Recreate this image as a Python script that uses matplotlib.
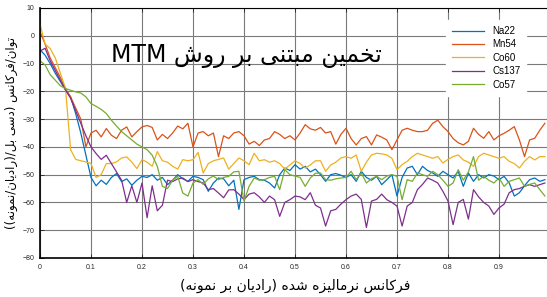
import re
import numpy as np
import matplotlib
matplotlib.use("Agg")
import matplotlib.pyplot as plt

# normalized frequency grid (rad/sample / pi)
freq = np.arange(100) / 100.0

na22 = [-5, -7, -10, -13.5, -16.5, -19.5, -22, -28, -35, -43,
        -51, -54, -52, -53.5, -51, -49.6, -52.5, -51.5, -53.8, -52,
        -50.6, -51, -50, -52, -51, -53.6, -52, -50, -51.5, -52.4,
        -50.6, -51, -51.8, -56, -53, -51.2, -51.5, -54, -52, -62.5,
        -51.8, -51, -50.6, -51.8, -52, -53, -54.8, -50, -47.6, -48.5,
        -46.4, -48, -47, -49, -48, -50, -52.4, -50, -49.6, -50.2,
        -51, -50, -52.4, -48.8, -51, -52, -50.6, -53.6, -51.8, -50,
        -57.7, -51, -47.6, -47, -50, -47, -48.5, -49.4, -50.6, -48.8,
        -50, -51.2, -48.8, -54.2, -49.4, -52.4, -50, -51.2, -50, -50.5,
        -51.8, -50.6, -53, -57.7, -56.5, -54, -51.8, -51.2, -52.4, -51.8]

mn54 = [1.5, -3, -8, -11.5, -15, -19, -22, -26, -30, -40,
        -35, -34, -36.4, -33.4, -35.8, -37, -34, -32.8, -36.4, -34.5,
        -32.8, -32.3, -33, -37.5, -35.5, -37, -35, -32.5, -33.5, -31.5,
        -40, -35, -34.5, -36, -35, -43.5, -36, -37, -35, -34.5,
        -36, -39, -38, -39.5, -37.5, -37, -34.5, -35.5, -37, -36,
        -37.5, -35, -32, -33.5, -34, -33, -35, -34.5, -39, -35.5,
        -33.3, -37, -39.3, -37, -36.3, -39.3, -35.7, -36.5, -37.5, -41,
        -37.5, -34, -33.3, -34, -34.5, -34.5, -34, -31.5, -30.4, -32.7,
        -34.5, -37, -38.5, -39.3, -38, -33.3, -35.5, -36.9, -34.5, -37.5,
        -36, -35.1, -34, -32.7, -37.5, -43.5, -37.5, -36.9, -34, -31.5]

co60 = [4.2, -3, -4.6, -8, -13.5, -19, -41, -44.5, -45, -45.4,
        -46, -51, -50, -46, -46, -45.4, -44, -43.6, -45.5, -47.8,
        -44.6, -45.5, -47, -41.7, -45, -45.5, -47, -48, -44.6, -45,
        -44.6, -42, -49.4, -46, -45, -44.5, -44, -48, -46, -44,
        -45, -46.4, -42.3, -45, -44.6, -45.5, -45, -46, -48, -46.5,
        -45, -46, -47.6, -46.5, -45, -45, -48.8, -46.5, -45.5, -44,
        -43.5, -44.1, -42.9, -48.8, -45.5, -42.9, -42.3, -42.5, -42.9, -44.1,
        -48.2, -46.4, -45.2, -43.5, -42.3, -42.9, -43.5, -44.1, -43.5, -45.8,
        -44.5, -43.5, -42.9, -44.7, -45.5, -47, -43.5, -42.3, -42.9, -43.5,
        -44.1, -43.5, -45.2, -46, -47.6, -45.2, -43.5, -44.7, -43.5, -43.5]

cs137 = [-5.5, -4.5, -9, -12.5, -16, -19.5, -22.5, -27, -31.5, -36,
         -40, -42.4, -44.5, -43, -46, -49, -52, -60, -54, -60,
         -53, -65.5, -54, -63, -61, -52, -52.5, -51.5, -51.2, -52.5,
         -51.8, -52.5, -53, -55.4, -55, -56.6, -58.3, -55.5, -55.4, -57,
         -59, -57, -56.5, -58, -60, -57.7, -59, -65, -60, -59,
         -57.7, -58, -59, -56.5, -61, -62, -68.5, -63, -62.5, -60.6,
         -59, -57.7, -57, -58.9, -69, -59.5, -58.9, -57, -59, -60,
         -61.3, -68.5, -61.3, -60, -55.4, -53.5, -51.2, -52, -53, -56,
         -59.5, -68, -60, -58.9, -66, -55.4, -58, -60, -61.3, -64.3,
         -62, -60.6, -56.5, -55.4, -55, -54.2, -53.6, -54.2, -53.6, -53]

co57 = [-9, -10.5, -14, -16, -18, -19, -19.6, -20.2, -20.6, -22,
        -24.4, -25.4, -26.5, -28, -30.4, -32.5, -34.5, -36, -37.5, -39,
        -40, -41, -43, -47, -54.2, -55, -52, -50.6, -56.6, -57.7,
        -53, -51.8, -53.5, -51.5, -50.5, -51.8, -51, -50.6, -49, -48.8,
        -59.5, -54.2, -51.2, -52, -51.8, -51, -50.6, -55.4, -48.2, -50,
        -50.5, -51, -54.2, -51.2, -49.5, -49.4, -51.8, -52, -51.5, -51.2,
        -51, -48.8, -51.8, -49.4, -53, -51.5, -50.6, -51.8, -50.5, -50,
        -50.6, -59, -51.8, -52.4, -49.4, -50, -50.6, -48.8, -50, -52,
        -54.2, -53, -48.2, -52, -49, -43.5, -52, -50.6, -52, -53,
        -51.2, -54.2, -52.4, -51.8, -51.2, -54.2, -53.5, -53, -55.4, -57.7]

series = [("Na22", na22), ("Mn54", mn54), ("Co60", co60), ("Cs137", cs137), ("Co57", co57)]
colors = ["#0072BD", "#D95319", "#EDB120", "#7E2F8E", "#77AC30"]

title_txt = "تخمین مبتنی بر روش MTM"
xlabel_txt = "فرکانس نرمالیزه شده (رادیان بر نمونه)"
ylabel_txt = "توان/فرکانس (دسی بل/(رادیان/نمونه))"

# matplotlib does no Arabic shaping, so do it by hand:
# isolated, final, initial, medial presentation forms
FORMS = {
    "ا": ("\uFE8D", "\uFE8E", None, None),
    "ب": ("\uFE8F", "\uFE90", "\uFE91", "\uFE92"),
    "ت": ("\uFE95", "\uFE96", "\uFE97", "\uFE98"),
    "خ": ("\uFEA5", "\uFEA6", "\uFEA7", "\uFEA8"),
    "د": ("\uFEA9", "\uFEAA", None, None),
    "ر": ("\uFEAD", "\uFEAE", None, None),
    "ز": ("\uFEAF", "\uFEB0", None, None),
    "س": ("\uFEB1", "\uFEB2", "\uFEB3", "\uFEB4"),
    "ش": ("\uFEB5", "\uFEB6", "\uFEB7", "\uFEB8"),
    "ف": ("\uFED1", "\uFED2", "\uFED3", "\uFED4"),
    "ک": ("\uFB8E", "\uFB8F", "\uFB90", "\uFB91"),
    "ل": ("\uFEDD", "\uFEDE", "\uFEDF", "\uFEE0"),
    "م": ("\uFEE1", "\uFEE2", "\uFEE3", "\uFEE4"),
    "ن": ("\uFEE5", "\uFEE6", "\uFEE7", "\uFEE8"),
    "ه": ("\uFEE9", "\uFEEA", "\uFEEB", "\uFEEC"),
    "و": ("\uFEED", "\uFEEE", None, None),
    "ی": ("\uFBFC", "\uFBFD", "\uFBFE", "\uFBFF"),
}


def shape(s):
    out = []
    for i, c in enumerate(s):
        if c not in FORMS:
            out.append(c)
            continue
        iso, fin, ini, med = FORMS[c]
        prev = s[i - 1] if i > 0 else ""
        nxt = s[i + 1] if i + 1 < len(s) else ""
        join_prev = prev in FORMS and FORMS[prev][2] is not None
        join_next = ini is not None and nxt in FORMS
        if join_prev and join_next:
            out.append(med)
        elif join_prev:
            out.append(fin)
        elif join_next:
            out.append(ini)
        else:
            out.append(iso)
    return "".join(out)


def rtl(s):
    # shape, then put the runs in visual order
    runs = re.findall(r"[A-Za-z0-9]+|[^A-Za-z0-9]+", shape(s))
    mirror = {"(": ")", ")": "("}
    parts = []
    for r in reversed(runs):
        if re.match(r"[A-Za-z0-9]", r):
            parts.append(r)
        else:
            parts.append("".join(mirror.get(c, c) for c in reversed(r)))
    return "".join(parts)


fig = plt.figure(figsize=(5.47, 2.97), dpi=100)
ax = fig.add_axes([40 / 547, 1 - 258 / 297, 510 / 547, 250 / 297])

for (name, vals), col in zip(series, colors):
    ax.plot(freq, vals, color=col, lw=0.9, label=name)

ax.set_xlim(0, 1)
ax.set_ylim(-80, 10)
ax.set_xticks(np.arange(0, 1.0, 0.1))
ax.set_xticklabels(["0", "0.1", "0.2", "0.3", "0.4", "0.5", "0.6", "0.7", "0.8", "0.9"])
ax.set_yticks(np.arange(-80, 11, 10))
ax.grid(True, color="#7a7a7a", lw=0.8)
ax.set_axisbelow(True)
ax.tick_params(direction="in", length=3, width=0.6, labelsize=5, colors="#262626",
               top=True, pad=4, labelfontfamily="Liberation Sans")
for sp in ["left", "bottom"]:
    ax.spines[sp].set_linewidth(1.2)
ax.spines["top"].set_linewidth(0.8)

ax.text(0.405, 0.81, rtl(title_txt), transform=ax.transAxes, ha="center", va="center",
        fontsize=17, family="DejaVu Sans")
ax.set_xlabel(rtl(xlabel_txt), fontsize=10, family="DejaVu Sans", labelpad=6)
ax.set_ylabel(rtl(ylabel_txt), fontsize=8.5, family="DejaVu Sans", labelpad=3)

leg = ax.legend(loc="upper right", bbox_to_anchor=(0.955, 0.955),
                handlelength=3.3, labelspacing=0.35, borderaxespad=0.3,
                prop={"family": "Liberation Sans", "size": 7})
leg.get_frame().set_edgecolor("white")
leg.get_frame().set_alpha(1)
leg.get_frame().set_boxstyle("square", pad=0.2)

fig.savefig("out.png", dpi=100)
